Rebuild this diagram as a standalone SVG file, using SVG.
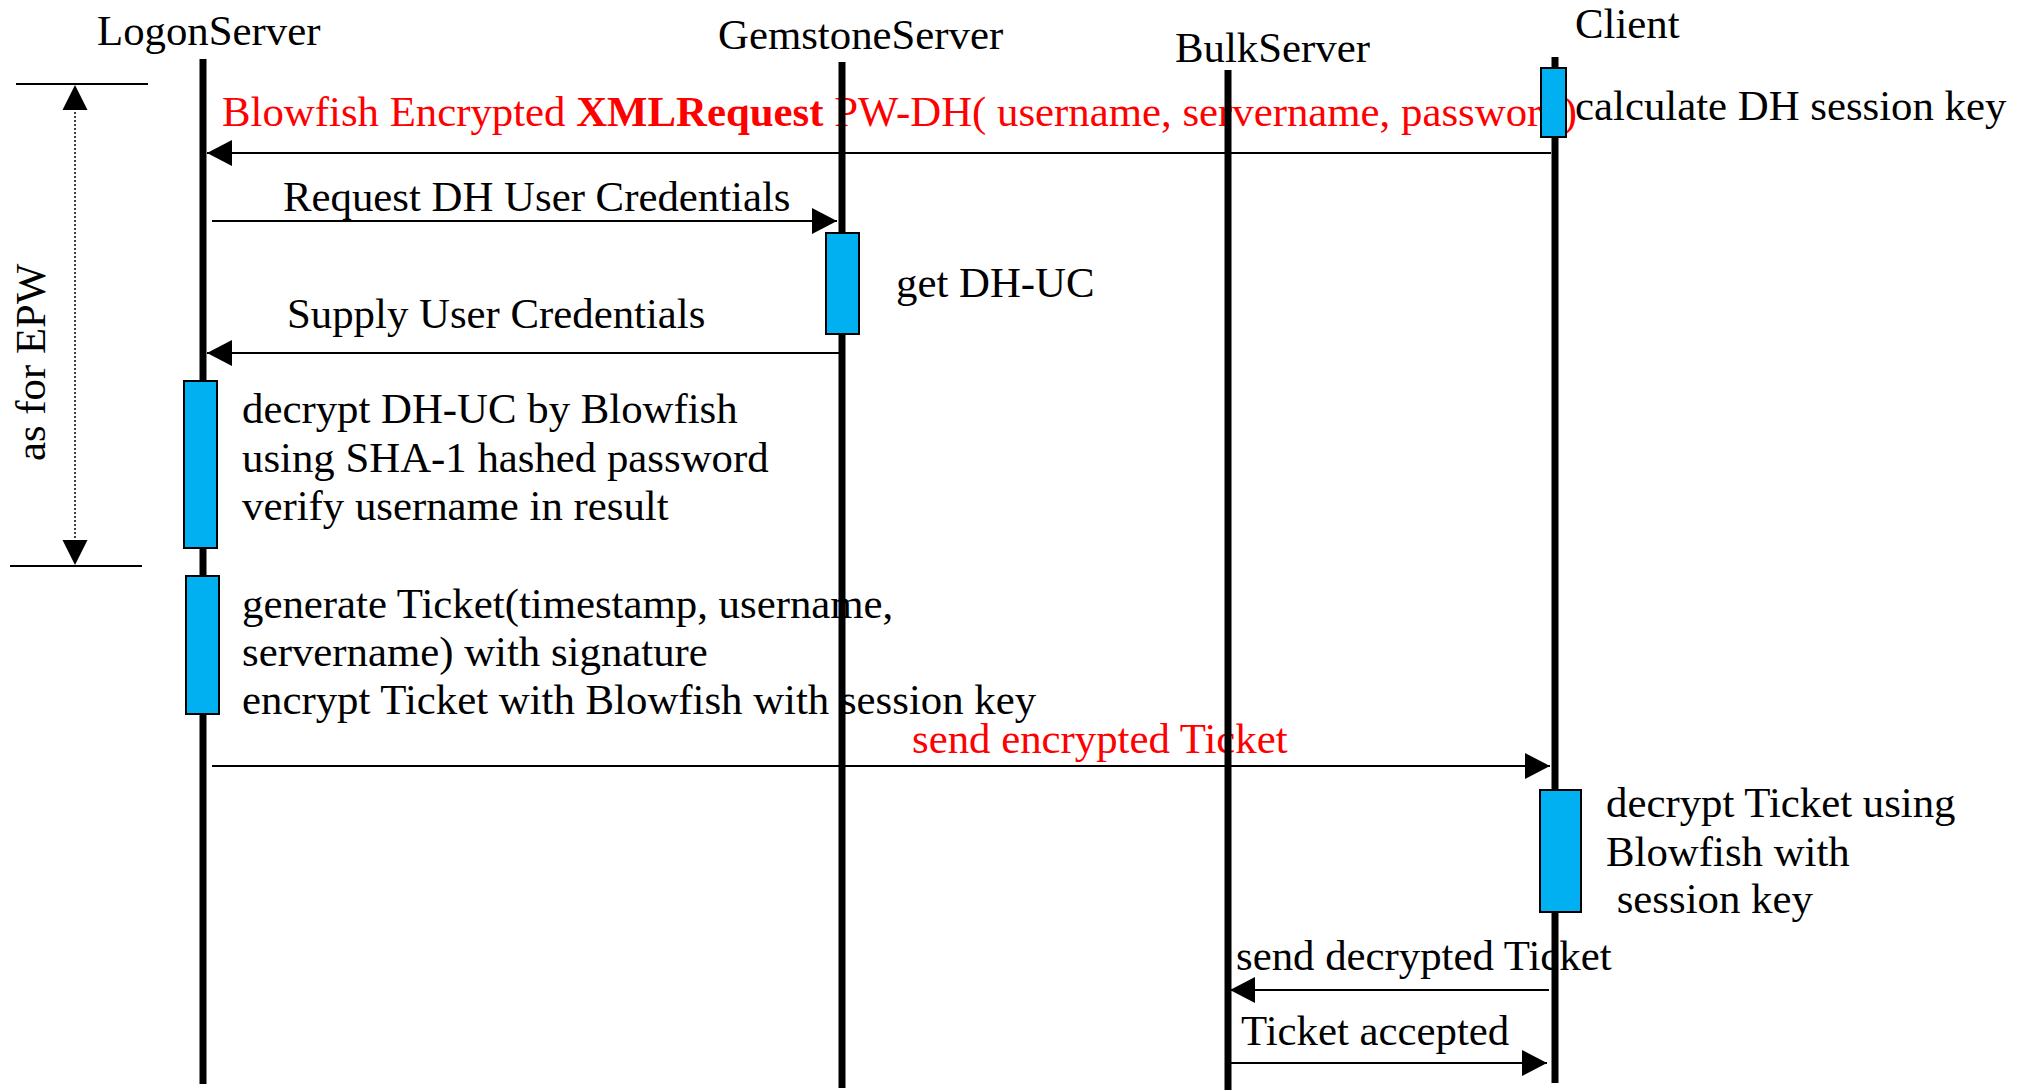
<svg xmlns="http://www.w3.org/2000/svg" width="2019" height="1091" viewBox="0 0 2019 1091">
  <style>
    text { font-family: "Liberation Serif", "Times New Roman", serif; font-size: 42.8px; fill: #000; }
    .red { fill: #ff0000; }
    .life { stroke: #000; stroke-width: 7; fill: none; }
    .act { fill: #00b0f0; stroke: #000; stroke-width: 2; }
    .msg { stroke: #000; stroke-width: 2; fill: none; marker-end: url(#ah); }
    .rule { stroke: #000; stroke-width: 2; }
  </style>
  <defs>
    <marker id="ah" markerUnits="userSpaceOnUse" markerWidth="26" markerHeight="26" refX="25" refY="13" orient="auto">
      <path d="M0,0 L25,13 L0,26 z" fill="#000"/>
    </marker>
  </defs>
  <rect width="2019" height="1091" fill="#fff"/>

  <!-- EPW span bracket -->
  <g id="epw-span">
    <line class="rule" x1="16" y1="84" x2="148" y2="84"/>
    <line class="rule" x1="10" y1="566" x2="142" y2="566"/>
    <line x1="75" y1="108" x2="75" y2="542" stroke="#000" stroke-width="1.5" stroke-dasharray="2,2"/>
    <path d="M75,85 L87.5,110 L62.5,110 z" fill="#000"/>
    <path d="M75,565 L87.5,540 L62.5,540 z" fill="#000"/>
    <text transform="translate(45,461) rotate(-90)" font-size="43">as for EPW</text>
  </g>

  <!-- connectors -->
  <g id="connectors">
    <line class="msg" x1="1551" y1="153" x2="207" y2="153"/>
    <line class="msg" x1="212" y1="221" x2="837" y2="221"/>
    <line class="msg" x1="840" y1="353" x2="207" y2="353"/>
    <line class="msg" x1="212" y1="766" x2="1550" y2="766"/>
    <line class="msg" x1="1549" y1="990" x2="1230" y2="990"/>
    <line class="msg" x1="1231" y1="1063" x2="1547" y2="1063"/>
  </g>

  <!-- message labels -->
  <g id="labels">
    <text class="red" x="222" y="126">Blowfish Encrypted <tspan font-weight="bold">XMLRequest</tspan> PW-DH( username, servername, password)</text>
    <text x="283" y="211">Request DH User Credentials</text>
    <text x="287" y="328">Supply User Credentials</text>
    <text class="red" x="912" y="753">send encrypted Ticket</text>
    <text x="1236" y="970">send decrypted Ticket</text>
    <text x="1241" y="1045">Ticket accepted</text>
  </g>

  <g id="LogonServer">
    <text x="97" y="45">LogonServer</text>
    <line class="life" x1="203" y1="59" x2="203" y2="1084"/>
    <rect class="act" x="184" y="381" width="33" height="167"/>
    <text x="242" y="423">decrypt DH-UC by Blowfish</text>
    <text x="242" y="472">using SHA-1 hashed password</text>
    <text x="242" y="520">verify username in result</text>
    <rect class="act" x="186" y="576" width="33" height="138"/>
  </g>

  <g id="GemstoneServer">
    <text x="718" y="49">GemstoneServer</text>
    <line class="life" x1="842" y1="62" x2="842" y2="1088"/>
    <rect class="act" x="826" y="233" width="33" height="101"/>
    <text x="896" y="297">get DH-UC</text>
  </g>

  <g id="BulkServer">
    <text x="1175" y="62">BulkServer</text>
    <line class="life" x1="1228" y1="70" x2="1228" y2="1090"/>
  </g>

  <!-- ticket generation note drawn over the Gemstone lifeline -->
  <g id="ticket-note">
    <text x="242" y="618">generate Ticket(timestamp, username,</text>
    <text x="242" y="666">servername) with signature</text>
    <text x="242" y="714">encrypt Ticket with Blowfish with session key</text>
  </g>

  <g id="Client">
    <text x="1575" y="38">Client</text>
    <line class="life" x1="1555" y1="57" x2="1555" y2="1083"/>
    <rect class="act" x="1541" y="68" width="25" height="69"/>
    <text x="1575" y="120">calculate DH session key</text>
    <rect class="act" x="1540" y="790" width="41" height="122"/>
    <text x="1606" y="817">decrypt Ticket using</text>
    <text x="1606" y="866">Blowfish with</text>
    <text x="1606" y="913" xml:space="preserve"> session key</text>
  </g>
</svg>
